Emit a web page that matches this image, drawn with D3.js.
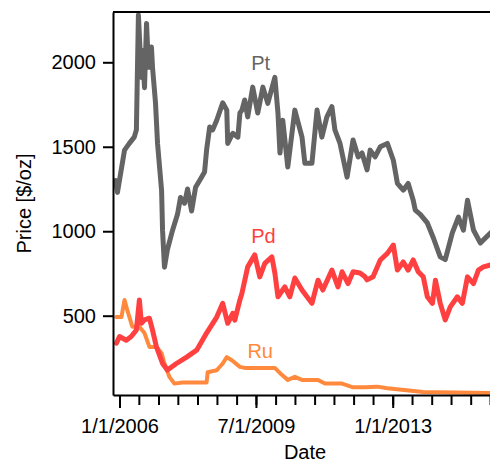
<!DOCTYPE html>
<html>
<head>
<meta charset="utf-8">
<script src="https://cdn.jsdelivr.net/npm/d3@7"></script>
<style>
  body { margin: 0; background: #fff; }
  svg { display: block; font-family: "Liberation Sans", Arial, sans-serif; }
</style>
</head>
<body>
<svg id="chart" width="490" height="462"></svg>
<script>
// Prices ($/oz)
var ptData = [
  ["2005-11-24",1300],["2005-12-13",1230],["2006-02-17",1480],["2006-04-03",1520],["2006-05-19",1557],
  ["2006-06-08",1600],["2006-06-27",2280],["2006-07-25",1910],["2006-08-04",2070],["2006-08-23",1850],
  ["2006-09-11",2230],["2006-09-29",1970],["2006-10-27",2090],["2006-11-06",1970],["2006-12-04",1760],
  ["2006-12-23",1520],["2007-01-30",1240],["2007-02-08",1005],["2007-02-26",787],["2007-03-25",890],
  ["2007-05-12",1005],["2007-06-28",1100],["2007-07-26",1200],["2007-09-02",1166],["2007-09-30",1250],
  ["2007-11-07",1120],["2007-12-14",1260],["2008-01-21",1300],["2008-03-07",1350],["2008-03-26",1480],
  ["2008-04-24",1617],["2008-05-22",1600],["2008-06-29",1657],["2008-08-24",1760],["2008-10-01",1717],
  ["2008-10-10",1520],["2008-11-26",1580],["2009-01-13",1557],["2009-02-01",1700],["2009-02-20",1717],
  ["2009-03-18",1777],["2009-04-15",1677],["2009-06-01",1853],["2009-07-18",1700],["2009-09-04",1853],
  ["2009-10-20",1757],["2009-12-25",1911],["2010-01-23",1700],["2010-02-11",1463],["2010-03-09",1657],
  ["2010-04-25",1380],["2010-06-30",1717],["2010-09-05",1557],["2010-10-02",1403],["2010-12-07",1403],
  ["2011-01-24",1717],["2011-03-10",1557],["2011-04-26",1677],["2011-06-12",1737],["2011-07-10",1600],
  ["2011-08-27",1520],["2011-11-01",1320],["2011-12-27",1540],["2012-02-13",1440],["2012-03-20",1463],
  ["2012-05-06",1363],["2012-06-04",1480],["2012-07-20",1440],["2012-09-07",1500],["2012-11-12",1520],
  ["2013-01-07",1420],["2013-02-14",1283],["2013-04-10",1243],["2013-05-26",1283],["2013-07-12",1183],
  ["2013-07-31",1125],["2013-09-16",1100],["2013-11-21",1049],["2014-01-17",960],["2014-03-22",848],
  ["2014-05-08",832],["2014-07-13",990],["2014-09-08",1084],["2014-10-25",1007],["2014-12-02",1183],
  ["2015-01-27",1007],["2015-04-02",930],["2015-05-18",960],["2015-07-05",990]
];

var pdData = [
  ["2005-12-03",337],["2006-01-01",377],["2006-03-05",355],["2006-04-21",377],["2006-06-08",415],
  ["2006-07-06",593],["2006-07-25",455],["2006-08-23",475],["2006-10-08",485],["2006-11-06",415],
  ["2006-12-13",315],["2007-02-08",217],["2007-03-25",178],["2007-06-18",217],["2007-09-21",255],
  ["2007-12-24",296],["2008-03-26",397],["2008-06-29",492],["2008-08-24",573],["2008-10-10",455],
  ["2008-11-26",514],["2008-12-15",474],["2009-02-01",593],["2009-02-20",633],["2009-04-15",789],
  ["2009-06-20",860],["2009-08-06",730],["2009-09-22",810],["2009-11-27",848],["2009-12-25",753],
  ["2010-01-23",612],["2010-03-28",671],["2010-05-14",612],["2010-06-30",723],["2010-09-05",652],
  ["2010-12-07",573],["2011-02-02",710],["2011-03-19",652],["2011-06-12",770],["2011-08-08",671],
  ["2011-09-15",760],["2011-11-10",690],["2011-12-27",760],["2012-03-01",753],["2012-04-17",730],
  ["2012-05-06",712],["2012-07-01",730],["2012-09-07",830],["2012-11-12",869],["2013-01-07",918],
  ["2013-02-14",770],["2013-04-10",818],["2013-05-26",770],["2013-07-12",830],["2013-08-28",760],
  ["2013-10-14",730],["2013-11-21",612],["2014-01-08",573],["2014-02-05",710],["2014-03-22",573],
  ["2014-05-08",475],["2014-06-24",552],["2014-08-29",612],["2014-10-15",573],["2014-12-02",730],
  ["2015-01-27",690],["2015-03-14",770],["2015-04-30",789],["2015-07-05",800]
];

var ruData = [
  ["2005-12-03",492],["2006-01-19",492],["2006-02-17",593],["2006-03-15",533],["2006-05-01",435],
  ["2006-07-06",435],["2006-08-23",397],["2006-10-08",315],["2006-12-13",315],["2007-01-30",277],
  ["2007-02-26",217],["2007-04-13",138],["2007-05-30",98],["2007-08-13",104],["2008-03-26",104],
  ["2008-04-05",165],["2008-06-29",177],["2008-08-24",217],["2008-10-01",255],["2008-11-17",236],
  ["2009-02-01",197],["2009-03-18",191],["2009-12-25",191],["2010-02-28",150],["2010-04-25",120],
  ["2010-06-30",138],["2010-09-05",120],["2011-02-02",120],["2011-04-08",98],["2011-09-15",98],
  ["2011-12-27",76],["2012-04-17",76],["2012-08-09",80],["2012-11-12",70],["2013-10-14",48],
  ["2015-07-05",42]
];

var yTicks = [500, 1000, 1500, 2000];
var majorTicks = ["2006-01-01", "2009-07-01", "2013-01-01"];
var majorLabels = ["1/1/2006", "7/1/2009", "1/1/2013"];

var series = [
  {name: "Pt", data: ptData, color: "#646464", width: 5, labelDate: "2009-08-15", labelValue: 1955},
  {name: "Pd", data: pdData, color: "#ff4040", width: 5, labelDate: "2009-09-10", labelValue: 930},
  {name: "Ru", data: ruData, color: "#ff8a3d", width: 4, labelDate: "2009-08-10", labelValue: 250}
];

var parse = d3.timeParse("%Y-%m-%d");

var svg = d3.select("svg#chart");
var plotLeft = 113, plotRight = 490, plotTop = 12, plotBottom = 395;

var x = d3.scaleTime()
  .domain([parse("2006-01-01"), parse("2013-01-01")])
  .range([119.5, 392.7]);
x.domain([x.invert(plotLeft), x.invert(plotRight)]).range([plotLeft, plotRight]);

var y = d3.scaleLinear()
  .domain([500, 2000])
  .range([315.7, 62.3]);
y.domain([y.invert(plotBottom), y.invert(plotTop)]).range([plotBottom, plotTop]);

svg.append("clipPath").attr("id", "clip")
  .append("rect").attr("x", plotLeft).attr("y", plotTop)
  .attr("width", plotRight - plotLeft).attr("height", plotBottom - plotTop);

var line = d3.line()
  .x(function(d) { return x(parse(d[0])); })
  .y(function(d) { return y(d[1]); });

var plot = svg.append("g").attr("clip-path", "url(#clip)");

// draw Ru first, Pt last
series.slice().reverse().forEach(function(s) {
  plot.append("path")
    .datum(s.data)
    .attr("fill", "none")
    .attr("stroke", s.color)
    .attr("stroke-width", s.width)
    .attr("stroke-linejoin", "round")
    .attr("stroke-linecap", "round")
    .attr("d", line);
});

series.forEach(function(s) {
  svg.append("text")
    .attr("x", x(parse(s.labelDate)))
    .attr("y", y(s.labelValue))
    .attr("text-anchor", "middle")
    .attr("font-size", "20px")
    .attr("fill", s.color)
    .text(s.name);
});

// Top frame line
svg.append("line")
  .attr("x1", plotLeft).attr("x2", plotRight)
  .attr("y1", plotTop).attr("y2", plotTop)
  .attr("stroke", "#000").attr("stroke-width", 2);

// Y axis
svg.append("g")
  .attr("transform", "translate(" + plotLeft + ",0)")
  .call(d3.axisLeft(y).tickValues(yTicks).tickSize(10).tickSizeOuter(0).tickPadding(7).tickFormat(d3.format("d")));

// X axis: minor ticks every 6 months, longer labelled ticks every 3.5 years
var minorTicks = d3.timeMonth.every(6).range(parse("2006-01-01"), parse("2015-08-01"));

svg.append("g")
  .attr("transform", "translate(0," + plotBottom + ")")
  .call(d3.axisBottom(x).tickValues(minorTicks).tickSize(10).tickSizeOuter(0).tickFormat(""));

var xAxisMajor = svg.append("g")
  .attr("transform", "translate(0," + plotBottom + ")")
  .call(d3.axisBottom(x).tickValues(majorTicks.map(parse)).tickSize(13).tickSizeOuter(0).tickPadding(11)
    .tickFormat(function(d, i) { return majorLabels[i]; }));
xAxisMajor.select(".domain").remove();

svg.selectAll(".tick text").attr("font-size", "20px").attr("fill", "#000")
  .attr("font-family", "'Liberation Sans', Arial, sans-serif");
svg.selectAll(".domain, .tick line").attr("stroke", "#000").attr("stroke-width", 2);

// Axis titles
svg.append("text")
  .attr("x", 305)
  .attr("y", 459)
  .attr("text-anchor", "middle")
  .attr("font-size", "20px")
  .text("Date");

svg.append("text")
  .attr("transform", "translate(31," + (plotTop + plotBottom) / 2 + ") rotate(-90)")
  .attr("text-anchor", "middle")
  .attr("font-size", "20px")
  .text("Price [$/oz]");
</script>
</body>
</html>
